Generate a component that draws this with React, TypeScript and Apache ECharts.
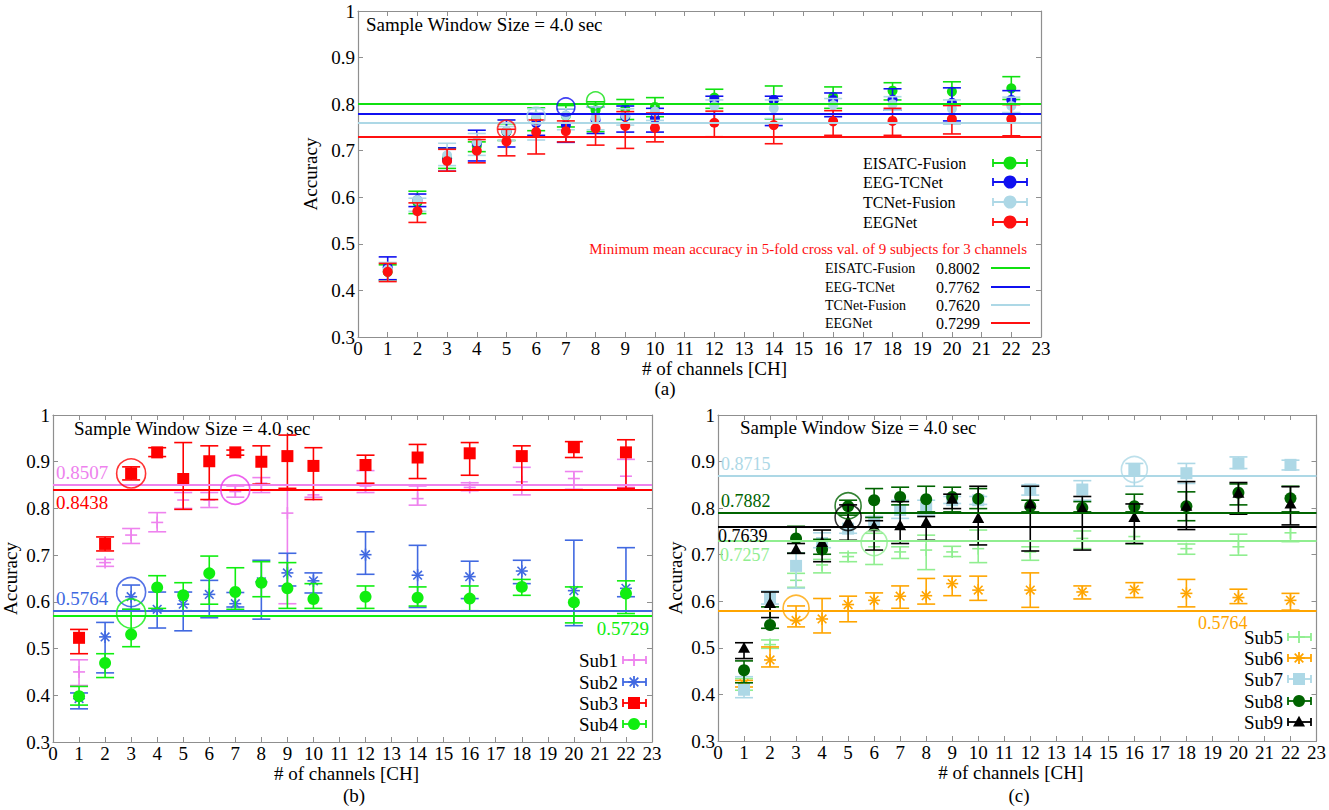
import React, { useEffect, useRef } from "react";
import * as echarts from "echarts";

// ---------- shared data ----------
const CHANNELS = [1, 2, 3, 4, 5, 6, 7, 8, 9, 10, 12, 14, 16, 18, 20, 22];
const X_MIN = 0;
const X_MAX = 23;
const Y_MIN = 0.3;
const Y_MAX = 1;
const TITLE = "Sample Window Size = 4.0 sec";
const X_NAME = "# of channels [CH]";
const Y_NAME = "Accuracy";
const PANEL_LABELS = ["(a)", "(b)", "(c)"];

// ---------- panel (a) ----------
const A_NAMES = ["EISATC-Fusion", "EEG-TCNet", "TCNet-Fusion", "EEGNet"];
const A_COLORS = ["#10e010", "#1010f0", "#add8e6", "#ff1010"];
const A_EISATC_MEAN = [0.440, 0.589, 0.684, 0.710, 0.740, 0.768, 0.775, 0.787, 0.790, 0.794, 0.814, 0.809, 0.816, 0.829, 0.827, 0.834];
const A_EISATC_LO = [0.422, 0.565, 0.662, 0.698, 0.722, 0.743, 0.751, 0.741, 0.767, 0.773, 0.791, 0.768, 0.791, 0.809, 0.800, 0.810];
const A_EISATC_HI = [0.455, 0.613, 0.706, 0.719, 0.758, 0.792, 0.797, 0.805, 0.810, 0.814, 0.832, 0.839, 0.837, 0.846, 0.848, 0.859];
const A_EEGTC_MEAN = [0.450, 0.594, 0.680, 0.716, 0.741, 0.759, 0.755, 0.766, 0.773, 0.769, 0.809, 0.809, 0.809, 0.810, 0.803, 0.809];
const A_EEGTC_LO = [0.423, 0.580, 0.656, 0.678, 0.708, 0.733, 0.718, 0.737, 0.740, 0.740, 0.760, 0.754, 0.773, 0.787, 0.764, 0.780];
const A_EEGTC_HI = [0.472, 0.607, 0.706, 0.744, 0.766, 0.780, 0.790, 0.794, 0.796, 0.791, 0.817, 0.817, 0.824, 0.833, 0.835, 0.829];
const A_TCNF_MEAN = [0.445, 0.594, 0.690, 0.719, 0.742, 0.774, 0.776, 0.770, 0.776, 0.784, 0.796, 0.791, 0.798, 0.800, 0.790, 0.796];
const A_TCNF_LO = [0.420, 0.570, 0.668, 0.690, 0.722, 0.723, 0.745, 0.745, 0.755, 0.765, 0.780, 0.769, 0.778, 0.787, 0.757, 0.782];
const A_TCNF_HI = [0.460, 0.598, 0.716, 0.737, 0.752, 0.790, 0.790, 0.794, 0.790, 0.800, 0.809, 0.809, 0.812, 0.816, 0.809, 0.815];
const A_EEGNET_MEAN = [0.440, 0.570, 0.678, 0.700, 0.720, 0.740, 0.742, 0.748, 0.753, 0.749, 0.760, 0.755, 0.763, 0.764, 0.768, 0.768];
const A_EEGNET_LO = [0.419, 0.546, 0.656, 0.674, 0.689, 0.693, 0.719, 0.712, 0.705, 0.719, 0.730, 0.715, 0.733, 0.733, 0.736, 0.732];
const A_EEGNET_HI = [0.458, 0.588, 0.703, 0.724, 0.746, 0.766, 0.764, 0.779, 0.784, 0.781, 0.785, 0.779, 0.786, 0.791, 0.797, 0.799];
const A_MIN_LINES = [0.8002, 0.7762, 0.7620, 0.7299];
const A_MIN_LABELS = ["0.8002", "0.7762", "0.7620", "0.7299"];
const A_HIGHLIGHT_X = [8, 7, 6, 5];
const A_HIGHLIGHT_Y = [0.807, 0.794, 0.774, 0.746];
const A_CAPTION = "Minimum mean accuracy in 5-fold cross val. of 9 subjects for 3 channels";

// ---------- panel (b) ----------
const B_NAMES = ["Sub1", "Sub2", "Sub3", "Sub4"];
const B_COLORS = ["#ee82ee", "#4169e1", "#ff0000", "#10ee10"];
const B_MARKERS = ["plus", "star", "square", "circle"];
const B_SUB1_MEAN = [0.450, 0.684, 0.743, 0.770, 0.818, 0.818, 0.836, 0.854, 0.790, 0.829, 0.848, 0.821, 0.845, 0.857, 0.864, 0.869];
const B_SUB1_LO = [0.421, 0.676, 0.725, 0.750, 0.800, 0.802, 0.824, 0.834, 0.596, 0.824, 0.834, 0.807, 0.838, 0.829, 0.841, 0.845];
const B_SUB1_HI = [0.476, 0.691, 0.757, 0.791, 0.834, 0.834, 0.848, 0.866, 0.850, 0.839, 0.881, 0.848, 0.855, 0.888, 0.879, 0.905];
const B_SUB2_MEAN = [0.393, 0.525, 0.611, 0.584, 0.595, 0.616, 0.596, 0.643, 0.662, 0.645, 0.701, 0.657, 0.654, 0.666, 0.624, 0.629];
const B_SUB2_LO = [0.371, 0.448, 0.584, 0.544, 0.538, 0.566, 0.589, 0.563, 0.634, 0.619, 0.659, 0.588, 0.607, 0.639, 0.549, 0.611];
const B_SUB2_HI = [0.405, 0.556, 0.636, 0.621, 0.621, 0.646, 0.620, 0.689, 0.704, 0.662, 0.750, 0.721, 0.687, 0.689, 0.732, 0.716];
const B_SUB3_MEAN = [0.523, 0.724, 0.875, 0.920, 0.863, 0.901, 0.920, 0.900, 0.912, 0.891, 0.893, 0.909, 0.918, 0.912, 0.931, 0.920];
const B_SUB3_LO = [0.489, 0.709, 0.861, 0.911, 0.798, 0.819, 0.914, 0.852, 0.843, 0.819, 0.854, 0.864, 0.871, 0.850, 0.909, 0.843];
const B_SUB3_HI = [0.541, 0.739, 0.889, 0.930, 0.941, 0.934, 0.925, 0.934, 0.957, 0.930, 0.914, 0.937, 0.941, 0.934, 0.943, 0.947];
const B_SUB4_MEAN = [0.398, 0.469, 0.530, 0.631, 0.614, 0.661, 0.621, 0.641, 0.629, 0.606, 0.611, 0.609, 0.607, 0.632, 0.599, 0.618];
const B_SUB4_LO = [0.379, 0.438, 0.504, 0.586, 0.581, 0.595, 0.584, 0.611, 0.586, 0.586, 0.586, 0.591, 0.581, 0.614, 0.555, 0.575];
const B_SUB4_HI = [0.419, 0.489, 0.584, 0.656, 0.641, 0.698, 0.673, 0.686, 0.684, 0.639, 0.634, 0.632, 0.634, 0.648, 0.632, 0.645];
const B_MIN_LINES = [0.8507, 0.5764, 0.8438, 0.5729];
const B_MIN_LABELS = ["0.8507", "0.5764", "0.8438", "0.5729"];
const B_MIN_LABEL_POS = ["insideStartTop", "insideStartTop", "insideStartBottom", "insideEndBottom"];
const B_HIGHLIGHT_X = [7, 3, 3, 3];
const B_HIGHLIGHT_Y = [0.840, 0.621, 0.875, 0.575];
const B_HIGHLIGHT_COLORS = ["#e83ae8", "#2a4fe0", "#ff0000", "#10ee10"];

// ---------- panel (c) ----------
const C_NAMES = ["Sub5", "Sub6", "Sub7", "Sub8", "Sub9"];
const C_COLORS = ["#90ee90", "#ffa500", "#add8e6", "#006400", "#000000"];
const C_MARKERS = ["plus", "star", "square", "circle", "triangle"];
const C_SUB5_MEAN = [0.420, 0.507, 0.645, 0.678, 0.696, 0.717, 0.706, 0.710, 0.706, 0.713, 0.706, 0.735, 0.739, 0.713, 0.717, 0.747];
const C_SUB5_LO = [0.409, 0.499, 0.630, 0.661, 0.685, 0.679, 0.692, 0.668, 0.696, 0.683, 0.688, 0.713, 0.723, 0.701, 0.699, 0.728];
const C_SUB5_HI = [0.434, 0.517, 0.660, 0.690, 0.704, 0.746, 0.717, 0.742, 0.718, 0.753, 0.717, 0.751, 0.760, 0.723, 0.744, 0.760];
const C_SUB6_MEAN = [0.423, 0.474, 0.559, 0.562, 0.593, 0.602, 0.611, 0.612, 0.638, 0.624, 0.624, 0.620, 0.625, 0.617, 0.608, 0.602];
const C_SUB6_LO = [0.416, 0.459, 0.545, 0.532, 0.556, 0.580, 0.585, 0.594, 0.612, 0.602, 0.587, 0.605, 0.608, 0.588, 0.595, 0.581];
const C_SUB6_HI = [0.430, 0.502, 0.590, 0.606, 0.611, 0.618, 0.633, 0.649, 0.654, 0.654, 0.661, 0.633, 0.640, 0.647, 0.626, 0.617];
const C_SUB7_MEAN = [0.410, 0.608, 0.676, 0.725, 0.756, 0.771, 0.796, 0.800, 0.817, 0.817, 0.840, 0.840, 0.883, 0.875, 0.896, 0.893];
const C_SUB7_LO = [0.393, 0.594, 0.628, 0.715, 0.746, 0.760, 0.778, 0.785, 0.810, 0.808, 0.828, 0.817, 0.847, 0.853, 0.885, 0.882];
const C_SUB7_HI = [0.438, 0.622, 0.704, 0.747, 0.789, 0.782, 0.817, 0.817, 0.825, 0.825, 0.850, 0.859, 0.896, 0.896, 0.910, 0.903];
const C_SUB8_MEAN = [0.452, 0.549, 0.735, 0.711, 0.804, 0.817, 0.824, 0.819, 0.824, 0.820, 0.804, 0.801, 0.804, 0.804, 0.833, 0.821];
const C_SUB8_LO = [0.425, 0.542, 0.703, 0.701, 0.785, 0.780, 0.807, 0.792, 0.792, 0.799, 0.792, 0.792, 0.792, 0.773, 0.807, 0.792];
const C_SUB8_HI = [0.472, 0.588, 0.761, 0.733, 0.817, 0.842, 0.845, 0.847, 0.845, 0.842, 0.817, 0.814, 0.830, 0.835, 0.852, 0.847];
const C_SUB9_MEAN = [0.499, 0.595, 0.711, 0.726, 0.771, 0.760, 0.762, 0.769, 0.819, 0.778, 0.809, 0.799, 0.780, 0.804, 0.832, 0.809];
const C_SUB9_LO = [0.477, 0.565, 0.703, 0.685, 0.731, 0.710, 0.724, 0.731, 0.799, 0.721, 0.708, 0.710, 0.724, 0.754, 0.787, 0.764];
const C_SUB9_HI = [0.511, 0.620, 0.724, 0.753, 0.807, 0.773, 0.814, 0.782, 0.830, 0.847, 0.847, 0.825, 0.809, 0.857, 0.855, 0.846];
const C_MIN_LINES = [0.7257, 0.5764, 0.8715, 0.7882, 0.7639];
const C_MIN_LABELS = ["0.7257", "0.5764", "0.8715", "0.7882", "0.7639"];
const C_MIN_LABEL_POS = ["insideStartBottom", "insideEndBottom", "insideStartTop", "insideStartTop", "insideStartBottom"];
const C_MIN_LABEL_DIST = [2, 3, 3, 3, 0];
const C_MIN_LABEL_PADTOP = [3, 0, 0, 0, 0];
const C_HIGHLIGHT_X = [6, 3, 16, 5, 5];
const C_HIGHLIGHT_Y = [0.726, 0.585, 0.883, 0.805, 0.780];

// ---------- style ----------
const FONT = '"Liberation Serif", "Times New Roman", serif';
const AXIS_COLOR = "#8f8f8f";

type Marker = "circle" | "square" | "triangle" | "plus" | "star";

function markerEls(kind: string, cx: number, cy: number, color: string, s: number, lw: number): any[] {
  const st = { stroke: color, lineWidth: lw };
  const h = s / 2;
  if (kind === "circle") return [{ type: "circle", shape: { cx, cy, r: h }, style: { fill: color } }];
  if (kind === "square") return [{ type: "rect", shape: { x: cx - h, y: cy - h, width: s, height: s }, style: { fill: color } }];
  if (kind === "triangle")
    return [{ type: "polygon", shape: { points: [[cx, cy - h * 1.05], [cx + h, cy + h * 0.75], [cx - h, cy + h * 0.75]] }, style: { fill: color } }];
  if (kind === "plus")
    return [
      { type: "line", shape: { x1: cx - h, y1: cy, x2: cx + h, y2: cy }, style: st },
      { type: "line", shape: { x1: cx, y1: cy - h, x2: cx, y2: cy + h }, style: st },
    ];
  const d = h * 0.72;
  return [
    { type: "line", shape: { x1: cx - h, y1: cy, x2: cx + h, y2: cy }, style: st },
    { type: "line", shape: { x1: cx, y1: cy - h, x2: cx, y2: cy + h }, style: st },
    { type: "line", shape: { x1: cx - d, y1: cy - d, x2: cx + d, y2: cy + d }, style: st },
    { type: "line", shape: { x1: cx - d, y1: cy + d, x2: cx + d, y2: cy - d }, style: st },
  ];
}

function rows(mean: number[], lo: number[], hi: number[]) {
  return CHANNELS.map((c, i) => [c, mean[i], lo[i], hi[i]]);
}

function errSeries(name: string, axis: number, color: string, kind: Marker, size: number, cap: number, mean: number[], lo: number[], hi: number[], markLine?: any) {
  const lw = 1.6;
  return {
    type: "custom",
    name,
    xAxisIndex: axis,
    yAxisIndex: axis,
    data: rows(mean, lo, hi),
    encode: { x: 0, y: [1, 2, 3] },
    renderItem: (_p: any, api: any) => {
      const x = api.value(0);
      const pm = api.coord([x, api.value(1)]);
      const pl = api.coord([x, api.value(2)]);
      const ph = api.coord([x, api.value(3)]);
      const st = { stroke: color, lineWidth: lw };
      return {
        type: "group",
        children: [
          { type: "line", shape: { x1: pl[0], y1: pl[1], x2: ph[0], y2: ph[1] }, style: st },
          { type: "line", shape: { x1: pl[0] - cap, y1: pl[1], x2: pl[0] + cap, y2: pl[1] }, style: st },
          { type: "line", shape: { x1: ph[0] - cap, y1: ph[1], x2: ph[0] + cap, y2: ph[1] }, style: st },
          ...markerEls(kind, pm[0], pm[1], color, size, lw),
        ],
      };
    },
    markLine,
  };
}

function minLine(value: number, color: string, label?: string, pos?: string, padRight?: number, dist?: number, padTop?: number, size?: number) {
  return {
    silent: true,
    symbol: ["none", "none"],
    animation: false,
    lineStyle: { color, width: 1.8, type: "solid" },
    label: label
      ? {
          show: true,
          position: pos,
          formatter: label,
          color,
          fontFamily: FONT,
          fontSize: size || 19,
          distance: dist === undefined ? 3 : dist,
          padding: [padTop || 0, padRight || 0, 0, 0],
        }
      : { show: false },
    data: [{ yAxis: value }],
  };
}

function highlight(axis: number, x: number, y: number, color: string, size: number) {
  return {
    type: "scatter",
    xAxisIndex: axis,
    yAxisIndex: axis,
    silent: true,
    z: 5,
    symbol: "circle",
    symbolSize: size,
    itemStyle: { color: "rgba(0,0,0,0)", borderColor: color, borderWidth: 1.6 },
    data: [[x, y]],
  };
}

function axesFor(grid: number, nameGap: number, namePad: number[]) {
  const line = { show: true, onZero: false, lineStyle: { color: AXIS_COLOR, width: 1.2 } };
  const tick = { show: true, inside: true, length: 5, lineStyle: { color: AXIS_COLOR, width: 1 } };
  const x = [
    {
      type: "value", gridIndex: grid, min: X_MIN, max: X_MAX, interval: 1, position: "bottom",
      axisLine: line, axisTick: tick, splitLine: { show: false },
      axisLabel: { color: "#000", fontFamily: FONT, fontSize: 19, margin: 2 },
      name: X_NAME, nameLocation: "middle", nameGap,
      nameTextStyle: { color: "#000", fontFamily: FONT, fontSize: 19, padding: namePad },
    },
    {
      type: "value", gridIndex: grid, min: X_MIN, max: X_MAX, interval: 1, position: "top",
      axisLine: line, axisTick: tick, splitLine: { show: false }, axisLabel: { show: false },
    },
  ];
  const y = [
    {
      type: "value", gridIndex: grid, min: Y_MIN, max: Y_MAX, interval: 0.1, position: "left",
      axisLine: line, axisTick: tick, splitLine: { show: false },
      axisLabel: {
        color: "#000", fontFamily: FONT, fontSize: 19, margin: 3,
        formatter: (v: number) => (Math.abs(v - 1) < 1e-6 ? "1" : v.toFixed(1)),
      },
      name: Y_NAME, nameLocation: "middle", nameGap: 33, nameRotate: 90,
      nameTextStyle: { color: "#000", fontFamily: FONT, fontSize: 19 },
    },
    {
      type: "value", gridIndex: grid, min: Y_MIN, max: Y_MAX, interval: 0.1, position: "right",
      axisLine: line, axisTick: tick, splitLine: { show: false }, axisLabel: { show: false },
    },
  ];
  return { x, y };
}

function txt(x: number, y: number, text: string, size: number, color = "#000", align = "left") {
  return {
    type: "text", x, y, silent: true,
    style: { text, fill: color, fontFamily: FONT, fontSize: size, align, verticalAlign: "middle" },
  };
}

function legendIcon(cx: number, cy: number, x1: number, x2: number, color: string, kind: string, size: number) {
  const st = { stroke: color, lineWidth: 1.8 };
  return {
    type: "group", silent: true,
    children: [
      { type: "line", shape: { x1, y1: cy, x2, y2: cy }, style: st },
      { type: "line", shape: { x1, y1: cy - 4, x2: x1, y2: cy + 4 }, style: st },
      { type: "line", shape: { x1: x2, y1: cy - 4, x2, y2: cy + 4 }, style: st },
      ...markerEls(kind, cx, cy, color, size, 1.8),
    ],
  };
}

function buildOption() {
  const ga = axesFor(0, 21, [0, 0, 0, 30]);
  const gb = axesFor(1, 16, [0, 12, 0, 0]);
  const gc = axesFor(2, 16, [0, 13, 0, 0]);

  const aData = [
    [A_EISATC_MEAN, A_EISATC_LO, A_EISATC_HI],
    [A_EEGTC_MEAN, A_EEGTC_LO, A_EEGTC_HI],
    [A_TCNF_MEAN, A_TCNF_LO, A_TCNF_HI],
    [A_EEGNET_MEAN, A_EEGNET_LO, A_EEGNET_HI],
  ];
  const bData = [
    [B_SUB1_MEAN, B_SUB1_LO, B_SUB1_HI],
    [B_SUB2_MEAN, B_SUB2_LO, B_SUB2_HI],
    [B_SUB3_MEAN, B_SUB3_LO, B_SUB3_HI],
    [B_SUB4_MEAN, B_SUB4_LO, B_SUB4_HI],
  ];
  const cData = [
    [C_SUB5_MEAN, C_SUB5_LO, C_SUB5_HI],
    [C_SUB6_MEAN, C_SUB6_LO, C_SUB6_HI],
    [C_SUB7_MEAN, C_SUB7_LO, C_SUB7_HI],
    [C_SUB8_MEAN, C_SUB8_LO, C_SUB8_HI],
    [C_SUB9_MEAN, C_SUB9_LO, C_SUB9_HI],
  ];

  const series: any[] = [];
  A_NAMES.forEach((n, i) => {
    series.push(errSeries(n, 0, A_COLORS[i], "circle", 10, 9, aData[i][0], aData[i][1], aData[i][2], minLine(A_MIN_LINES[i], A_COLORS[i])));
  });
  B_NAMES.forEach((n, i) => {
    series.push(errSeries(n, 2, B_COLORS[i], B_MARKERS[i] as Marker, 12, 9, bData[i][0], bData[i][1], bData[i][2]));
  });
  B_MIN_LINES.forEach((v, i) => {
    series.push({
      type: "line", xAxisIndex: 2, yAxisIndex: 2, data: [], silent: true,
      markLine: minLine(v, B_COLORS[i], B_MIN_LABELS[i], B_MIN_LABEL_POS[i]),
    });
  });
  C_NAMES.forEach((n, i) => {
    series.push(errSeries(n, 4, C_COLORS[i], C_MARKERS[i] as Marker, 12, 9, cData[i][0], cData[i][1], cData[i][2],
      minLine(C_MIN_LINES[i], C_COLORS[i], C_MIN_LABELS[i], C_MIN_LABEL_POS[i],
        C_MIN_LABEL_POS[i] === "insideEndBottom" ? 66 : 0, C_MIN_LABEL_DIST[i], C_MIN_LABEL_PADTOP[i], 18)));
  });
  A_HIGHLIGHT_X.forEach((x, i) => series.push(highlight(0, x, A_HIGHLIGHT_Y[i], A_COLORS[i], 18)));
  B_HIGHLIGHT_X.forEach((x, i) => series.push(highlight(2, x, B_HIGHLIGHT_Y[i], B_HIGHLIGHT_COLORS[i], 29)));
  C_HIGHLIGHT_X.forEach((x, i) => series.push(highlight(4, x, C_HIGHLIGHT_Y[i], C_COLORS[i], 26)));

  const graphic: any[] = [];
  graphic.push(txt(366, 24, TITLE, 19));
  graphic.push(txt(74, 428, TITLE, 19));
  graphic.push(txt(740, 427, TITLE, 19));
  graphic.push(txt(665, 388, PANEL_LABELS[0], 19, "#000", "center"));
  graphic.push(txt(354, 795, PANEL_LABELS[1], 19, "#000", "center"));
  graphic.push(txt(1019, 795, PANEL_LABELS[2], 19, "#000", "center"));
  const aLegY = [163, 182, 202, 222];
  A_NAMES.forEach((n, i) => {
    graphic.push(txt(863, aLegY[i], n, 16));
    graphic.push(legendIcon(1010, aLegY[i], 993, 1027, A_COLORS[i], "circle", 13));
  });
  graphic.push(txt(1027, 249, A_CAPTION, 15, "#ff1010", "right"));
  const aTabY = [268, 287, 305, 323];
  A_NAMES.forEach((n, i) => {
    graphic.push(txt(825, aTabY[i], n, 14));
    graphic.push(txt(936, aTabY[i], A_MIN_LABELS[i], 16));
    graphic.push({ type: "line", silent: true, shape: { x1: 991, y1: aTabY[i], x2: 1030, y2: aTabY[i] }, style: { stroke: A_COLORS[i], lineWidth: 2 } });
  });
  const bLegY = [660, 682, 703, 724];
  B_NAMES.forEach((n, i) => {
    graphic.push(txt(618, bLegY[i], n, 19, "#000", "right"));
    graphic.push(legendIcon(634, bLegY[i], 623, 646, B_COLORS[i], B_MARKERS[i], 12));
  });
  const cLegY = [637, 658, 679, 701, 722];
  C_NAMES.forEach((n, i) => {
    graphic.push(txt(1283, cLegY[i], n, 19, "#000", "right"));
    graphic.push(legendIcon(1299, cLegY[i], 1288, 1311, C_COLORS[i], C_MARKERS[i], 12));
  });

  return {
    animation: false,
    backgroundColor: "#ffffff",
    grid: [
      { left: 358, top: 11, width: 683, height: 326 },
      { left: 52, top: 415, width: 600, height: 327 },
      { left: 718, top: 415, width: 600, height: 326 },
    ],
    xAxis: [...ga.x, ...gb.x, ...gc.x],
    yAxis: [...ga.y, ...gb.y, ...gc.y],
    series,
    graphic,
  };
}

export default function App() {
  const ref = useRef<HTMLDivElement>(null);
  useEffect(() => {
    if (!ref.current) return;
    const chart = echarts.init(ref.current, undefined, { renderer: "svg" });
    chart.setOption(buildOption() as any);
    return () => chart.dispose();
  }, []);
  return (
    <div
      ref={ref}
      style={{ position: "absolute", left: 0, top: 0, width: 1329, height: 810, background: "#fff" }}
    />
  );
}
